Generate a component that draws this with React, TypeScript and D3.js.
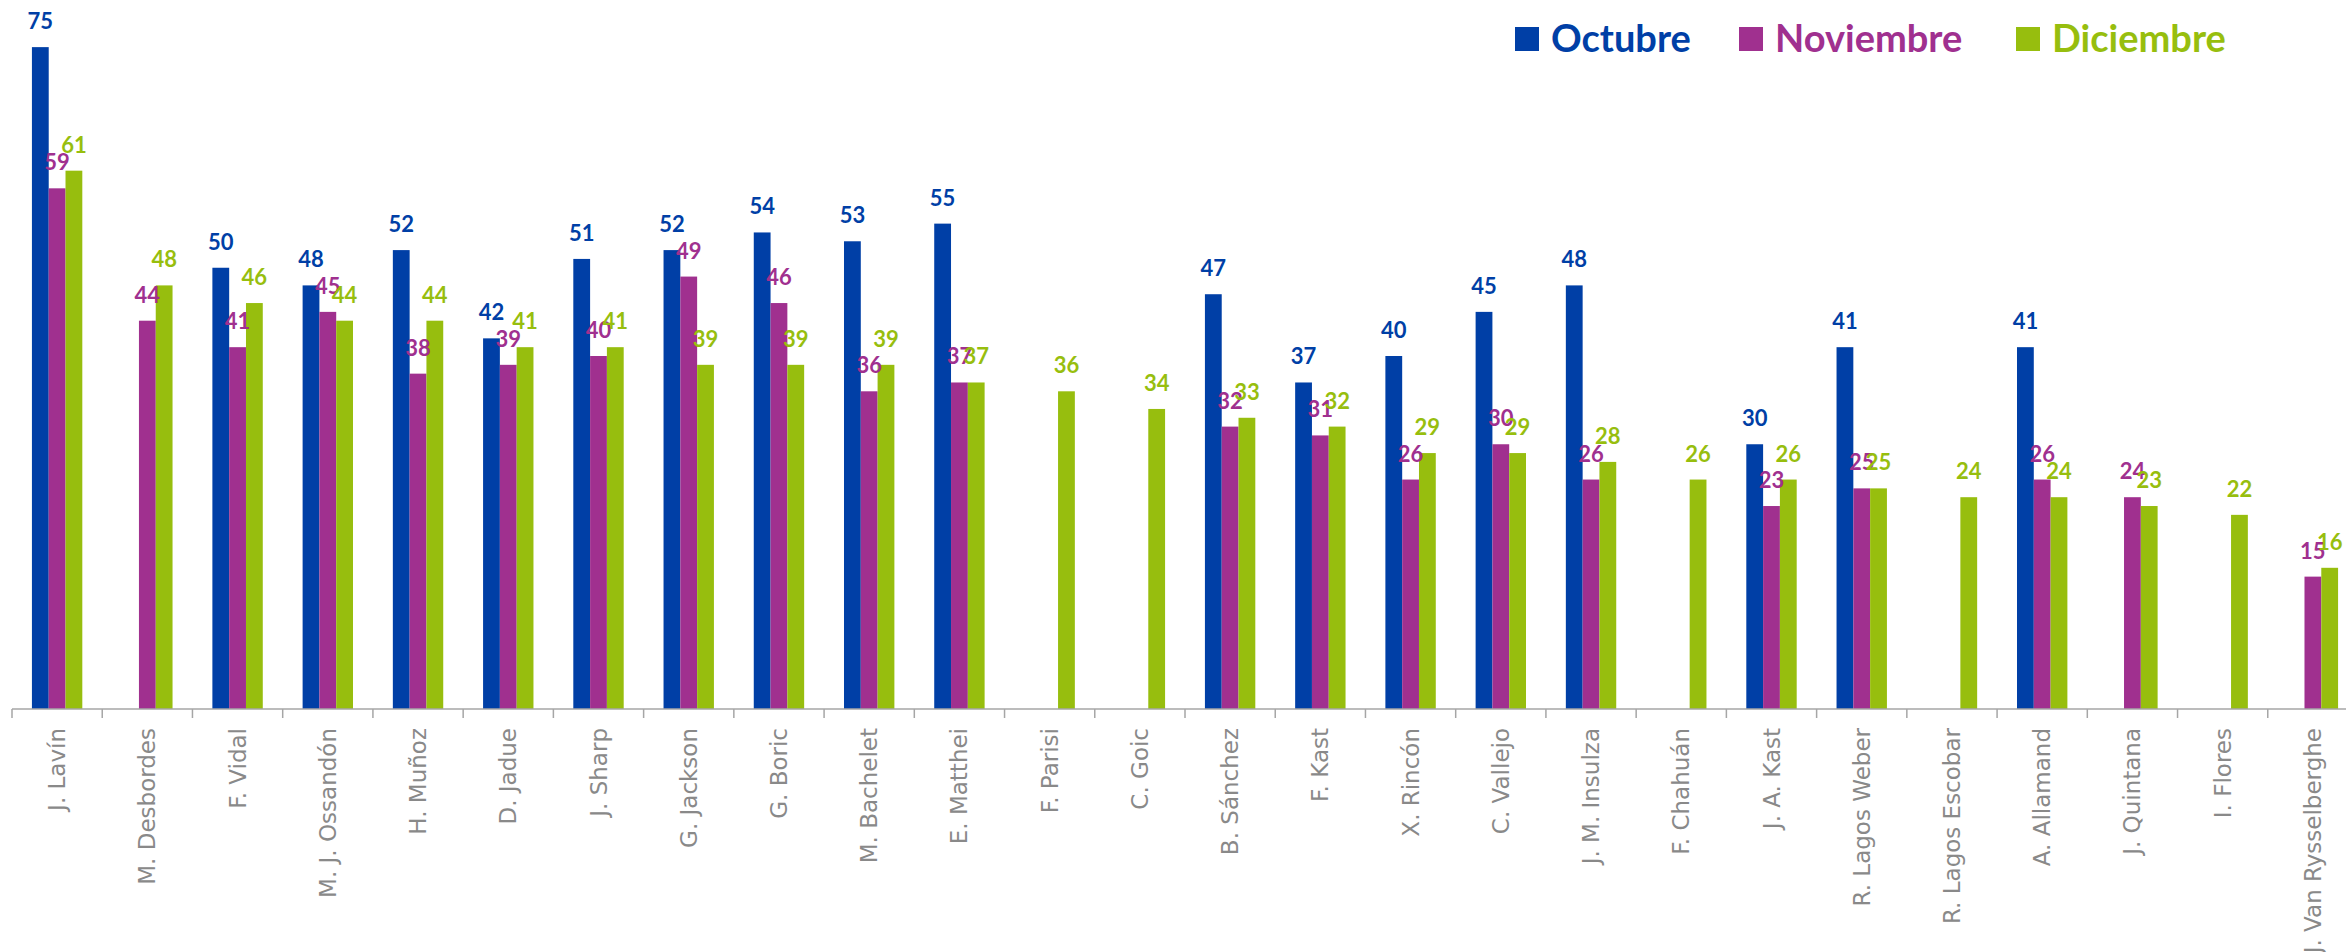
import React, { useLayoutEffect, useRef, useState } from "react";
import * as d3 from "d3";

const categories = [
  "J. Lavín", "M. Desbordes", "F. Vidal", "M. J. Ossandón", "H. Muñoz", "D. Jadue",
  "J. Sharp", "G. Jackson", "G. Boric", "M. Bachelet", "E. Matthei", "F. Parisi",
  "C. Goic", "B. Sánchez", "F. Kast", "X. Rincón", "C. Vallejo", "J. M. Insulza",
  "F. Chahuán", "J. A. Kast", "R. Lagos Weber", "R. Lagos Escobar", "A. Allamand",
  "J. Quintana", "I. Flores", "J. Van Rysselberghe",
];

const octubre: (number | null)[] = [
  75, null, 50, 48, 52, 42, 51, 52, 54, 53, 55, null, null, 47, 37, 40, 45, 48,
  null, 30, 41, null, 41, null, null, null,
];
const noviembre: (number | null)[] = [
  59, 44, 41, 45, 38, 39, 40, 49, 46, 36, 37, null, null, 32, 31, 26, 30, 26,
  null, 23, 25, null, 26, 24, null, 15,
];
const diciembre: (number | null)[] = [
  61, 48, 46, 44, 44, 41, 41, 39, 39, 39, 37, 36, 34, 33, 32, 29, 29, 28,
  26, 26, 25, 24, 24, 23, 22, 16,
];

const seriesNames = ["Octubre", "Noviembre", "Diciembre"];
const seriesValues = [octubre, noviembre, diciembre];
const colors = ["#003FA6", "#A0308F", "#97BE0E"];

const W = 2346;
const H = 952;
const plotLeft = 12;
const plotRight = 2358;
const baseY = 709;
const topY = 3;

export default function App() {
  const [axisFs, setAxisFs] = useState(22);
  const refLabel = useRef<SVGTextElement | null>(null);

  useLayoutEffect(() => {
    const el = refLabel.current;
    if (!el) return;
    const len = el.getComputedTextLength();
    if (len > 0) {
      const target = 170;
      const next = (axisFs * target) / len;
      if (Math.abs(next - axisFs) > 0.2) setAxisFs(next);
    }
  }, [axisFs]);

  const x0 = d3.scaleBand<string>().domain(categories).range([plotLeft, plotRight]).paddingInner(0).paddingOuter(0);
  const x1 = d3
    .scaleBand<string>()
    .domain(seriesNames)
    .range([0, x0.bandwidth()])
    .paddingInner(0)
    .paddingOuter(1.186);
  const y = d3.scaleLinear().domain([0, 80]).range([baseY, topY]);

  const tickXs = categories.map((c) => x0(c) as number).concat([plotRight]);

  const legendX = [1515, 1739, 2016];

  return (
    <svg
      width={W}
      height={H}
      viewBox={`0 0 ${W} ${H}`}
      style={{ position: "absolute", left: 0, top: 0, background: "#fff" }}
    >
      <rect x={0} y={0} width={W} height={H} fill="#fff" />
      {categories.map((c, i) => (
        <g key={c}>
          {seriesNames.map((s, k) => {
            const v = seriesValues[k][i];
            if (v == null) return null;
            const bx = (x0(c) as number) + (x1(s) as number);
            return (
              <rect
                key={s}
                x={bx}
                y={y(v)}
                width={x1.bandwidth()}
                height={baseY - y(v)}
                fill={colors[k]}
              />
            );
          })}
        </g>
      ))}
      {categories.map((c, i) => (
        <g key={c + "-lbl"}>
          {seriesNames.map((s, k) => {
            const v = seriesValues[k][i];
            if (v == null) return null;
            const cx = (x0(c) as number) + (x1(s) as number) + x1.bandwidth() / 2;
            return (
              <text
                key={s}
                x={cx}
                y={y(v) - 18}
                textAnchor="middle"
                fontFamily="Lato, 'Open Sans', sans-serif"
                fontWeight={700}
                fontSize={22}
                fill={colors[k]}
              >
                {v}
              </text>
            );
          })}
        </g>
      ))}
      <line x1={plotLeft} x2={plotRight} y1={baseY} y2={baseY} stroke="#a6a6a6" strokeWidth={1.5} />
      {tickXs.map((tx, i) => (
        <line key={i} x1={tx} x2={tx} y1={baseY} y2={baseY + 9} stroke="#a6a6a6" strokeWidth={1.5} />
      ))}
      {categories.map((c, i) => {
        const cx = (x0(c) as number) + x0.bandwidth() / 2;
        const ty = 728;
        return (
          <text
            key={c + "-ax"}
            ref={i === 3 ? refLabel : undefined}
            transform={`translate(${cx + 8},${ty}) rotate(-90)`}
            textAnchor="end"
            fontFamily="'DejaVu Sans', Verdana, sans-serif"
            fontSize={axisFs}
            fill="#898989"
          >
            {c}
          </text>
        );
      })}
      {seriesNames.map((s, k) => (
        <g key={s + "-leg"}>
          <rect x={legendX[k]} y={27} width={24} height={24} fill={colors[k]} />
          <text
            x={legendX[k] + 36}
            y={51.5}
            fontFamily="Lato, 'Open Sans', sans-serif"
            fontWeight={700}
            fontSize={38}
            fill={colors[k]}
          >
            {s}
          </text>
        </g>
      ))}
    </svg>
  );
}
